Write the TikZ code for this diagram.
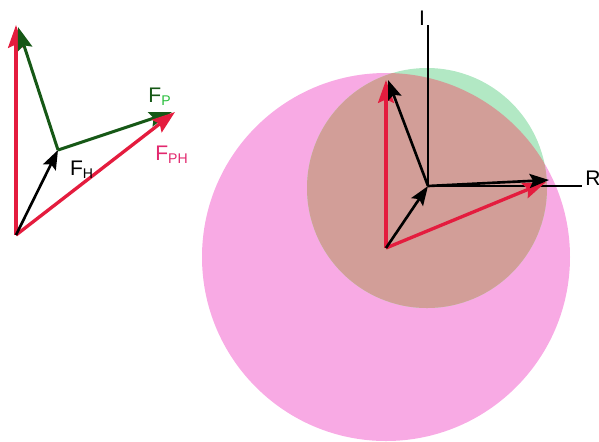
\documentclass[tikz,border=0pt]{standalone}
\usepackage{fontspec}
\setmainfont{Liberation Sans}
\usetikzlibrary{arrows.meta}
\definecolor{vecred}{RGB}{228,28,62}
\definecolor{vecgreen}{RGB}{22,88,22}
\definecolor{subgreen}{RGB}{40,190,60}
\definecolor{labred}{RGB}{226,40,110}
\definecolor{discpink}{RGB}{248,170,228}
\definecolor{discgreen}{RGB}{178,232,196}
\definecolor{discmix}{RGB}{210,158,152}
\begin{document}
\begin{tikzpicture}[x=0.02cm, y=-0.02cm,
    redvec/.style={-{Stealth[length=13pt, width=9pt, inset=2pt]}, line width=1.9pt, vecred},
    greenvec/.style={-{Stealth[length=13pt, width=8.5pt, inset=2pt]}, line width=1.7pt, vecgreen},
    blackvec/.style={-{Stealth[length=11pt, width=8pt, inset=2pt]}, line width=1.5pt, black},
    axisline/.style={line width=0.7pt, black},
    lab/.style={inner sep=0pt, font=\fontsize{12}{14}\selectfont}]
  \useasboundingbox (0,0) rectangle (599,441);
  % discs
  \fill[discpink] (386,257) circle (184);
  \fill[discgreen] (427,188) circle (120);
  \begin{scope}
    \clip (386,257) circle (184);
    \fill[discmix] (427,188) circle (120);
  \end{scope}
  % left sketch
  \coordinate (o1) at (16,235);
  \coordinate (top1) at (16,25);
  \coordinate (h1) at (58,150);
  \coordinate (g1) at (18,27);
  \coordinate (p1) at (172,112);
  \coordinate (ph1) at (175,112);
  \draw[redvec] (o1) -- (top1);
  \draw[greenvec] (h1) -- (g1);
  \draw[greenvec] (h1) -- (p1);
  \draw[redvec] (o1) -- (ph1);
  \draw[blackvec] (o1) -- (h1);
  \node[lab, vecgreen] (fp) at (160,97) {F\textsubscript{\color{subgreen}P}};
  \node[lab, labred] (fph) at (172,155) {F\textsubscript{PH}};
  \node[lab] (fh) at (82,170) {F\textsubscript{H}};
  % right sketch
  \coordinate (o2) at (386,248);
  \coordinate (c) at (428,186);
  \coordinate (top2) at (386,80);
  \coordinate (b2) at (388,80);
  \coordinate (r2) at (549,180);
  \coordinate (ph2) at (546,182);
  \coordinate (iend) at (428,25);
  \coordinate (rend) at (582,186);
  \draw[axisline] (c) -- (iend);
  \draw[axisline] (c) -- (rend);
  \node[lab] (ilab) at (422,18) {I};
  \node[lab] (rlab) at (593,178) {R};
  \draw[redvec] (o2) -- (top2);
  \draw[redvec] (o2) -- (ph2);
  \draw[blackvec] (c) -- (b2);
  \draw[blackvec] (c) -- (r2);
  \draw[blackvec] (o2) -- (c);
\end{tikzpicture}
\end{document}
